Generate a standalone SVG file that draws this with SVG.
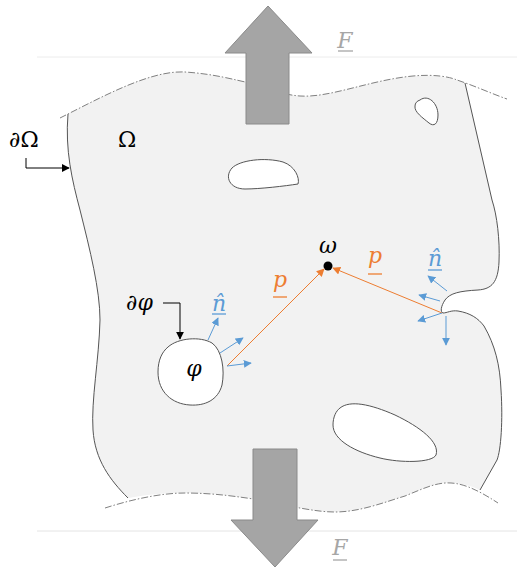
<svg xmlns="http://www.w3.org/2000/svg" width="517" height="569" viewBox="0 0 517 569">
<style>
.bnd{fill:none;stroke:#555;stroke-width:1}
.dash{fill:none;stroke:#808080;stroke-width:1;stroke-dasharray:7 2 1.5 2}
.hole{fill:#fff;stroke:#555;stroke-width:1}
.force{fill:#a5a5a5;stroke:#8a8a8a;stroke-width:1}
.t{font-family:"DejaVu Serif","Liberation Serif",serif;font-size:22px;fill:#000}
.i{font-style:italic}
.blue{stroke:#5b9bd5;stroke-width:1;fill:none}
.orange{stroke:#ed7d31;stroke-width:1;fill:none}
.blk{stroke:#000;stroke-width:1;fill:none}
</style>
<defs>
<marker id="mb" viewBox="0 0 10 10" refX="9" refY="5" markerWidth="8" markerHeight="8" markerUnits="userSpaceOnUse" orient="auto"><path d="M0,0 L10,5 L0,10 Z" fill="#5b9bd5"/></marker>
<marker id="mo" viewBox="0 0 10 10" refX="9" refY="5" markerWidth="8" markerHeight="8" markerUnits="userSpaceOnUse" orient="auto"><path d="M0,0 L10,5 L0,10 Z" fill="#ed7d31"/></marker>
<marker id="mk" viewBox="0 0 10 10" refX="9" refY="5" markerWidth="8" markerHeight="8" markerUnits="userSpaceOnUse" orient="auto"><path d="M0,0 L10,5 L0,10 Z" fill="#000"/></marker>
</defs>
<line x1="37" y1="57" x2="517" y2="57" stroke="#ececec" stroke-width="1"/>
<line x1="37" y1="531" x2="517" y2="531" stroke="#e4e4e4" stroke-width="1"/>
<g id="domain">
<path fill="#f2f2f2" d="M68,114 C105,95 150,70 185,72 C215,74 235,80 250,83 C270,90 285,95 300,96 C330,98 370,80 413,76 C435,74 452,78 465,83 L492,200 C497,215 500,240 499,262 C498,282 492,289 478,290 C460,291 450,293 445,300 C441,306 440,312 443,313 C447,313 451,310 458,311 C470,313 478,318 484,326 C495,345 500,365 501,390 C503,420 501,450 497,460 L480,490 C470,485 455,482 445,483 C432,484 420,490 405,496 C385,502 360,512 335,512 C315,512 290,506 260,500 C240,497 215,493 185,493 C160,493 145,495 128,498 C110,480 95,460 93,430 C91,400 99,360 100,320 C100,290 90,250 80,210 C72,180 65,150 68,114 Z"/>
<path class="bnd" d="M465,83 L492,200 C497,215 500,240 499,262 C498,282 492,289 478,290 C460,291 450,293 445,300 C441,306 440,312 443,313 C447,313 451,310 458,311 C470,313 478,318 484,326 C495,345 500,365 501,390 C503,420 501,450 497,460 L480,490"/>
<path class="bnd" d="M128,498 C110,480 95,460 93,430 C91,400 99,360 100,320 C100,290 90,250 80,210 C72,180 65,150 68,114"/>
<path class="dash" d="M60,118 C100,98 150,70 185,72 C215,74 235,80 250,83 C270,90 285,95 300,96 C330,98 370,80 413,76 C435,74 450,77 457,80 C475,86 495,95 507,99"/>
<path class="dash" d="M105,508 C130,500 160,493 185,493 C215,493 240,497 260,500 C290,506 315,512 335,512 C360,512 385,502 405,496 C420,490 432,484 445,483 C460,482 475,488 498,503"/>
</g>
<g id="hole-top-right"><path class="hole" d="M420,100 C428,94 438,103 438,115 C438,124 434,127 429,123 C423,118 414,112 415,106 C415,103 417,101 420,100 Z"/></g>
<g id="hole-middle"><path class="hole" d="M232,168 C240,160 265,157 283,162 C295,166 300,178 298,184 C285,186 260,189 245,189 C230,189 224,177 232,168 Z"/></g>
<g id="hole-bottom"><path class="hole" d="M340,408 C350,400 370,404 395,415 C420,427 440,442 436,455 C432,463 400,463 380,458 C355,452 333,440 333,425 C333,417 336,411 340,408 Z"/></g>
<g id="hole-phi"><path class="hole" d="M168,347 C178,338 200,336 212,343 C222,350 225,370 222,385 C218,400 205,406 190,405 C172,404 158,392 158,372 C158,360 162,352 168,347 Z"/>
<text class="t i" x="194" y="376" text-anchor="middle">φ</text></g>
<g id="force-top"><polygon class="force" points="268,6 312,53 289,53 289,124 246,124 246,53 225,53"/>
<text class="t i" x="345" y="48" text-anchor="middle" style="fill:#a6a6a6">F</text>
<line x1="338" y1="51" x2="353" y2="51" stroke="#a6a6a6" stroke-width="1.3"/></g>
<g id="force-bottom"><polygon class="force" points="253,449 297,449 297,520 318,520 275,567 231,520 253,520"/>
<text class="t i" x="340" y="555" text-anchor="middle" style="fill:#a6a6a6">F</text>
<line x1="333" y1="560" x2="347" y2="560" stroke="#a6a6a6" stroke-width="1.3"/></g>
<g id="labels">
<text class="t" x="9" y="147">∂Ω</text>
<text class="t" x="118" y="147">Ω</text>
<text class="t i" x="126" y="310">∂φ</text>
</g>
<g id="omega"><circle cx="328" cy="266" r="4.5" fill="#000"/>
<text class="t i" x="328" y="253" text-anchor="middle">ω</text></g>
<g id="vec-labels">
<text class="t i" x="280" y="287" text-anchor="middle" style="fill:#ed7d31">p</text>
<line x1="273" y1="297" x2="287" y2="297" stroke="#ed7d31" stroke-width="1.3"/>
<text class="t i" x="375" y="263" text-anchor="middle" style="fill:#ed7d31">p</text>
<line x1="368" y1="274" x2="382" y2="274" stroke="#ed7d31" stroke-width="1.3"/>
<text class="t i" x="219" y="311" text-anchor="middle" style="fill:#5b9bd5">n̂</text>
<line x1="212" y1="314" x2="226" y2="314" stroke="#5b9bd5" stroke-width="1.3"/>
<text class="t i" x="435" y="266" text-anchor="middle" style="fill:#5b9bd5">n̂</text>
<line x1="428" y1="270" x2="442" y2="270" stroke="#5b9bd5" stroke-width="1.3"/>
</g>
<g id="connectors">
<path class="blk" d="M26,158 L26,168 L69,168" marker-end="url(#mk)"/>
<path class="blk" d="M163,303 L180,303 L180,339" marker-end="url(#mk)"/>
<line class="orange" x1="227" y1="366" x2="324" y2="269" marker-end="url(#mo)"/>
<line class="orange" x1="442" y1="313" x2="333" y2="268" marker-end="url(#mo)"/>
<line class="blue" x1="208" y1="340" x2="218" y2="318" marker-end="url(#mb)"/>
<line class="blue" x1="220" y1="353" x2="243" y2="338" marker-end="url(#mb)"/>
<line class="blue" x1="227" y1="366" x2="251" y2="363" marker-end="url(#mb)"/>
<line class="blue" x1="447" y1="291" x2="428" y2="276" marker-end="url(#mb)"/>
<line class="blue" x1="440" y1="301" x2="419" y2="295" marker-end="url(#mb)"/>
<line class="blue" x1="442" y1="313" x2="418" y2="321" marker-end="url(#mb)"/>
<line class="blue" x1="446" y1="316" x2="446" y2="345" marker-end="url(#mb)"/>
</g>
</svg>
